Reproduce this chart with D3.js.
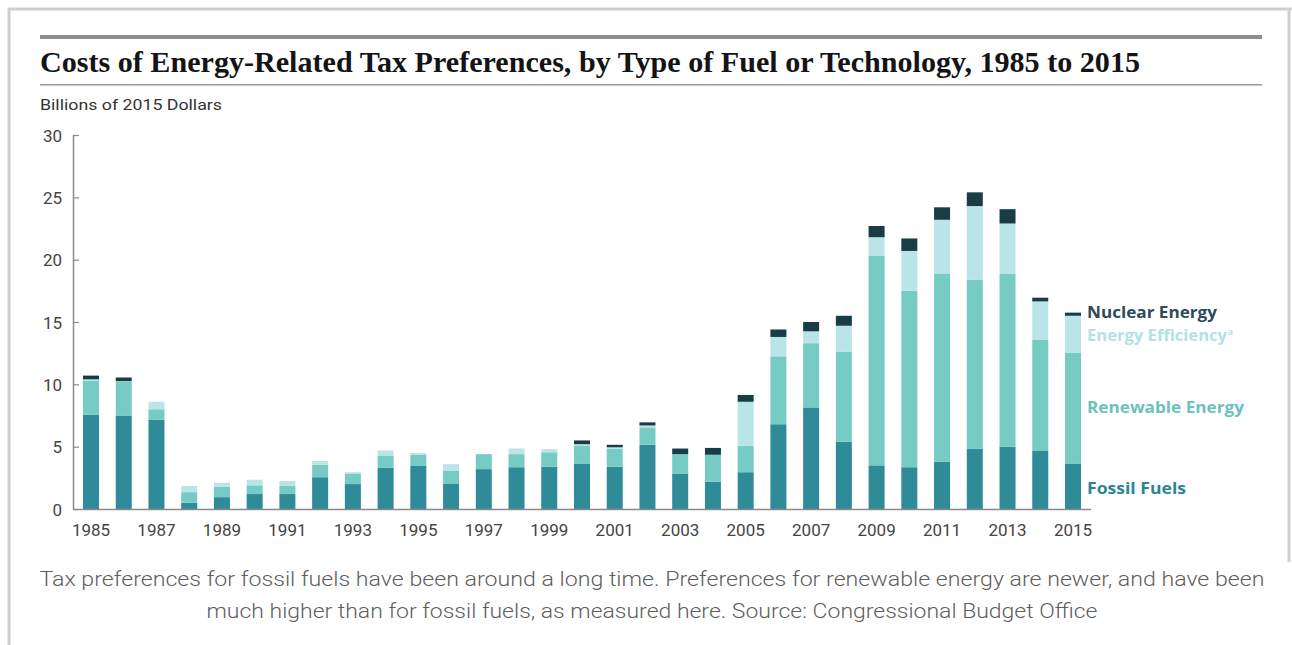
<!DOCTYPE html>
<html>
<head>
<meta charset="utf-8">
<script src="https://cdn.jsdelivr.net/npm/d3@7"></script>
<style>
  html, body { margin: 0; padding: 0; background: #fff; }
  svg { display: block; }
</style>
</head>
<body>
<svg id="chart" width="1292" height="645"></svg>
<script>
// Years shown on the x axis
const years = d3.range(1985, 2016).map(String);

// Costs in billions of 2015 dollars, by type of fuel or technology
const fossilFuels = [7.55, 7.5, 7.15, 0.5, 0.95, 1.2, 1.2, 2.55, 2.0, 3.3, 3.45, 2.05, 3.2, 3.35, 3.4, 3.65,
                     3.4, 5.15, 2.85, 2.2, 2.95, 6.8, 8.15, 5.4, 3.5, 3.35, 3.8, 4.85, 5.0, 4.7, 3.65];
const renewableEnergy = [2.75, 2.7, 0.85, 0.85, 0.85, 0.7, 0.65, 1.0, 0.85, 0.95, 0.9, 1.0, 1.2, 1.05, 1.15, 1.45,
                         1.45, 1.4, 1.55, 2.15, 2.1, 5.45, 5.15, 7.2, 16.8, 14.15, 15.05, 13.55, 13.85, 8.9, 8.9];
const energyEfficiency = [0.1, 0.05, 0.6, 0.5, 0.3, 0.45, 0.4, 0.3, 0.1, 0.45, 0.15, 0.55, 0.0, 0.45, 0.25, 0.1,
                          0.1, 0.15, 0.0, 0.0, 3.55, 1.55, 0.95, 2.1, 1.5, 3.2, 4.35, 5.9, 4.05, 3.05, 2.95];
const nuclearEnergy = [0.3, 0.3, 0, 0, 0, 0, 0, 0, 0, 0, 0, 0, 0, 0, 0, 0.3,
                       0.2, 0.25, 0.45, 0.55, 0.55, 0.6, 0.75, 0.8, 0.9, 1.0, 1.0, 1.1, 1.15, 0.3, 0.25];

const yTicks = [0, 5, 10, 15, 20, 25, 30];
const xTickLabels = years.filter((d, i) => i % 2 === 0);

const seriesKeys = ["fossil", "renewable", "efficiency", "nuclear"];
const seriesColors = {
  fossil: "#2f8b98",
  renewable: "#77cbc5",
  efficiency: "#b9e5e8",
  nuclear: "#183d46"
};

const rows = years.map((y, i) => ({
  year: y,
  fossil: fossilFuels[i],
  renewable: renewableEnergy[i],
  efficiency: energyEfficiency[i],
  nuclear: nuclearEnergy[i]
}));

const svg = d3.select("#chart");

// Page frame
svg.append("path")
  .attr("d", "M9,645 V9 H1292")
  .attr("fill", "none").attr("stroke", "#cfcfcf").attr("stroke-width", 3);
svg.append("line")
  .attr("x1", 1289).attr("x2", 1289).attr("y1", 9).attr("y2", 562)
  .attr("stroke", "#cfcfcf").attr("stroke-width", 3);

// Title block
svg.append("rect").attr("x", 40).attr("y", 35).attr("width", 1222).attr("height", 4).attr("fill", "#8e8e8e");
svg.append("text")
  .attr("x", 40).attr("y", 72)
  .attr("font-family", "'Liberation Serif', 'DejaVu Serif', serif")
  .attr("font-weight", "bold").attr("font-size", 29)
  .attr("textLength", 1100).attr("lengthAdjust", "spacingAndGlyphs")
  .attr("fill", "#141414")
  .text("Costs of Energy-Related Tax Preferences, by Type of Fuel or Technology, 1985 to 2015");
svg.append("rect").attr("x", 40).attr("y", 84).attr("width", 1222).attr("height", 1.5).attr("fill", "#9a9a9a");

svg.append("text")
  .attr("x", 40).attr("y", 110)
  .attr("font-family", "Roboto, sans-serif").attr("font-size", 15.5)
  .attr("textLength", 182).attr("lengthAdjust", "spacingAndGlyphs")
  .attr("fill", "#333")
  .text("Billions of 2015 Dollars");

// Scales
const x = d3.scaleBand()
  .domain(years)
  .range([73, 1091])
  .paddingInner(0.511)
  .paddingOuter(0.3055);

const y = d3.scaleLinear().domain([0, 30]).range([509, 135]);

// Stacked bars
const stacked = d3.stack().keys(seriesKeys)(rows);

svg.append("g")
  .selectAll("g")
  .data(stacked)
  .join("g")
  .attr("fill", d => seriesColors[d.key])
  .selectAll("rect")
  .data(d => d)
  .join("rect")
  .attr("x", d => x(d.data.year))
  .attr("width", x.bandwidth())
  .attr("y", d => y(d[1]))
  .attr("height", d => Math.max(0, y(d[0]) - y(d[1])));

// Y axis
const yAxis = svg.append("g")
  .attr("transform", "translate(73,0)")
  .call(d3.axisRight(y).tickValues(yTicks).tickSize(6).tickFormat(d3.format("d")));
yAxis.select(".domain").attr("stroke", "#8a8a8a").attr("stroke-width", 1.5)
  .attr("d", `M0.5,${y(30)}V${y(0)}`);
yAxis.selectAll(".tick line").attr("stroke", "#8a8a8a").attr("stroke-width", 1.2);
yAxis.selectAll(".tick text")
  .attr("x", -11).attr("text-anchor", "end").attr("dy", "0.36em")
  .attr("font-family", "Roboto, sans-serif").attr("font-size", 17)
  .attr("fill", "#444");

// X axis
const xAxis = svg.append("g")
  .attr("transform", `translate(0,${y(0)})`)
  .call(d3.axisBottom(x).tickValues(xTickLabels).tickSize(0).tickPadding(15));
xAxis.select(".domain").attr("stroke", "#8a8a8a").attr("stroke-width", 1.5)
  .attr("d", "M73,0.5H1091");
xAxis.selectAll(".tick text")
  .attr("font-family", "Roboto, sans-serif").attr("font-size", 17)
  .attr("fill", "#444");

// Series labels at the right of the last bar
const labels = [
  { text: "Nuclear Energy", y: 318, color: "#2c4b57", width: 130 },
  { text: "Energy Efficiency", y: 341, color: "#b3e2e4", width: 140, sup: "a" },
  { text: "Renewable Energy", y: 413, color: "#6dc1bd", width: 157 },
  { text: "Fossil Fuels", y: 494, color: "#2e8492", width: 99 }
];
const lab = svg.append("g")
  .attr("font-family", "'Open Sans', sans-serif")
  .attr("font-weight", 700)
  .attr("font-size", 15.5);
labels.forEach(l => {
  lab.append("text")
    .attr("x", 1087).attr("y", l.y)
    .attr("fill", l.color)
    .attr("textLength", l.width).attr("lengthAdjust", "spacingAndGlyphs")
    .text(l.text);
  if (l.sup) {
    lab.append("text")
      .attr("x", 1087 + l.width + 1).attr("y", l.y - 6)
      .attr("font-size", 8).attr("fill", l.color)
      .text(l.sup);
  }
});

// Caption
const caption = svg.append("g")
  .attr("font-family", "Roboto, sans-serif")
  .attr("font-weight", 300)
  .attr("font-size", 21)
  .attr("fill", "#5e5e5e")
  .attr("text-anchor", "middle");
caption.append("text").attr("x", 652).attr("y", 586)
  .attr("textLength", 1225).attr("lengthAdjust", "spacingAndGlyphs")
  .text("Tax preferences for fossil fuels have been around a long time. Preferences for renewable energy are newer, and have been");
caption.append("text").attr("x", 652).attr("y", 618)
  .attr("textLength", 891).attr("lengthAdjust", "spacingAndGlyphs")
  .text("much higher than for fossil fuels, as measured here. Source: Congressional Budget Office");
</script>
</body>
</html>
